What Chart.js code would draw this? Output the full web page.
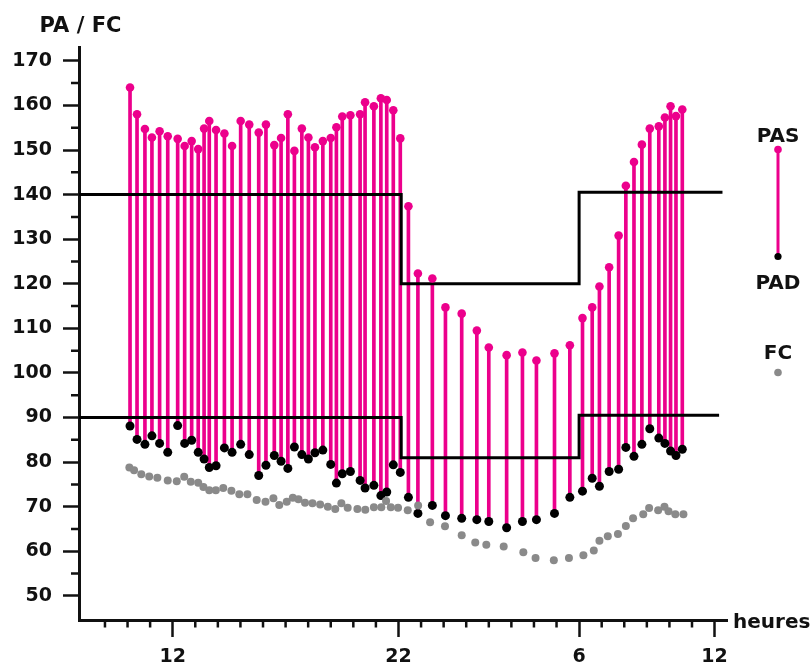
<!DOCTYPE html>
<html>
<head>
<meta charset="utf-8">
<title>PA / FC</title>
<script src="https://cdn.jsdelivr.net/npm/chart.js@4.4.1/dist/chart.umd.min.js"></script>
<style>
  html, body { margin: 0; padding: 0; background: #fff; }
  canvas { display: block; }
</style>
</head>
<body>
<canvas id="bp-chart" width="811" height="667"></canvas>
<script>
// measurement times in hours (24 = midnight, 30 = 6h next day)
const times = [10.11, 10.42, 10.77, 11.08, 11.42, 11.78, 12.22, 12.53, 12.84, 13.13,
    13.39, 13.62, 13.92, 14.29, 14.63, 15.01, 15.39, 15.81, 16.13, 16.50,
    16.80, 17.10, 17.39, 17.72, 18.01, 18.30, 18.65, 19.00, 19.25, 19.51,
    19.87, 20.30, 20.52, 20.91, 21.22, 21.48, 21.77, 22.08, 22.44, 22.86,
    23.50, 24.08, 24.80, 25.47, 26.00, 26.79, 27.49, 28.11, 28.91, 29.59,
    30.15, 30.58, 30.90, 31.33, 31.75, 32.07, 32.43, 32.78, 33.13, 33.53,
    33.80, 34.05, 34.29, 34.57];

// systolic (PAS) and diastolic (PAD)
const pas = [164.0, 158.0, 154.7, 152.8, 154.2, 153.1, 152.5, 150.9, 152.0, 150.2,
    154.8, 156.5, 154.5, 153.7, 150.9, 156.5, 155.7, 153.9, 155.7, 151.1,
    152.7, 158.0, 149.8, 154.8, 152.8, 150.6, 152.0, 152.7, 155.1, 157.5,
    157.8, 158.0, 160.7, 159.8, 161.6, 161.2, 158.9, 152.6, 137.4, 122.3,
    121.2, 114.7, 113.3, 109.5, 105.7, 104.0, 104.6, 102.8, 104.4, 106.2,
    112.3, 114.7, 119.4, 123.7, 130.8, 142.0, 147.3, 151.2, 154.8, 155.3,
    157.3, 159.8, 157.6, 159.1];

const pad = [88.1, 85.1, 84.0, 85.9, 84.2, 82.2, 88.2, 84.2, 84.9, 82.2,
    80.7, 78.8, 79.2, 83.2, 82.2, 84.0, 81.7, 77.0, 79.3, 81.5,
    80.2, 78.6, 83.4, 81.7, 80.7, 82.1, 82.7, 79.5, 75.3, 77.4,
    77.9, 75.9, 74.2, 74.8, 72.5, 73.3, 79.4, 77.7, 72.1, 68.5,
    70.3, 68.0, 67.4, 67.1, 66.7, 65.3, 66.7, 67.1, 68.5, 72.1,
    73.5, 76.4, 74.6, 77.9, 78.4, 83.3, 81.3, 84.0, 87.5, 85.4,
    84.2, 82.5, 81.5, 82.9];

// heart rate (FC)
const fcTimes = [10.08, 10.29, 10.61, 10.96, 11.32, 11.78, 12.18, 12.51, 12.80, 13.13,
    13.36, 13.62, 13.91, 14.24, 14.60, 14.95, 15.31, 15.72, 16.11, 16.46,
    16.72, 17.05, 17.32, 17.57, 17.86, 18.19, 18.53, 18.87, 19.20, 19.47,
    19.75, 20.18, 20.53, 20.91, 21.24, 21.45, 21.66, 21.98, 22.41, 22.87,
    23.40, 24.06, 24.80, 25.40, 25.89, 26.66, 27.53, 28.07, 28.88, 29.55,
    30.19, 30.65, 30.90, 31.27, 31.72, 32.07, 32.39, 32.84, 33.10, 33.50,
    33.78, 33.96, 34.26, 34.62];

const fc = [78.8, 78.2, 77.3, 76.8, 76.5, 75.9, 75.7, 76.7, 75.6, 75.4,
    74.4, 73.7, 73.7, 74.2, 73.6, 72.8, 72.8, 71.5, 71.1, 71.9,
    70.4, 71.1, 72.0, 71.7, 70.9, 70.8, 70.5, 70.0, 69.5, 70.8,
    69.8, 69.5, 69.3, 69.9, 69.9, 71.3, 69.9, 69.8, 69.2, 70.3,
    66.5, 65.6, 63.6, 62.0, 61.5, 61.1, 59.8, 58.5, 58.0, 58.5,
    59.1, 60.2, 62.4, 63.4, 63.9, 65.7, 67.4, 68.3, 69.7, 69.2,
    70.0, 69.0, 68.3, 68.3];

// day / night limits
const sysLimitTimes = [7.85, 22.12, 30.0, 36.35];
const sysLimits = [140, 120, 140.5];
const diaLimitTimes = [7.85, 22.12, 30.0, 36.2];
const diaLimits = [90, 81, 90.5];

// axis ticks
const hourTicks = [12, 22, 30, 36];
const yTicks = [50, 60, 70, 80, 90, 100, 110, 120, 130, 140, 150, 160, 170];

const pink = "#ec008c";
const grey = "#8a8a8a";
const ink = "#111111";
const fontFamily = "'DejaVu Sans', sans-serif";

function stepLine(ts, levels) {
    let pts = [];
    levels.forEach((v, i) => {
        pts.push({x: ts[i], y: v});
        pts.push({x: ts[i + 1], y: v});
    });
    return pts;
}

// minor ticks, titles and the legend on the right
const extras = {
    id: "extras",
    afterDraw(chart) {
        const ctx = chart.ctx;
        const xs = chart.scales.x;
        const ys = chart.scales.y;
        const area = chart.chartArea;
        ctx.save();
        ctx.strokeStyle = ink;
        ctx.lineWidth = 2.5;
        ctx.beginPath();
        for (let h = 9; h <= 36; h++) {
            if (hourTicks.includes(h)) continue;
            const px = xs.getPixelForValue(h);
            ctx.moveTo(px, area.bottom);
            ctx.lineTo(px, area.bottom + 7.5);
        }
        for (let v = 55; v <= 165; v += 10) {
            const py = ys.getPixelForValue(v);
            ctx.moveTo(area.left - 8, py);
            ctx.lineTo(area.left, py);
        }
        ctx.stroke();

        ctx.fillStyle = ink;
        ctx.textBaseline = "alphabetic";
        ctx.font = "bold 21px " + fontFamily;
        ctx.textAlign = "center";
        ctx.fillText("PA / FC", 80.5, 31.5);
        ctx.font = "bold 20px " + fontFamily;
        ctx.textAlign = "left";
        ctx.fillText("heures", 733, 628);

        // legend
        const lx = 778;
        ctx.textAlign = "center";
        ctx.fillText("PAS", lx, 141.5);
        ctx.fillText("PAD", lx, 289);
        ctx.fillText("FC", lx, 359);
        ctx.strokeStyle = pink;
        ctx.lineWidth = 3;
        ctx.beginPath();
        ctx.moveTo(lx, 149.5);
        ctx.lineTo(lx, 256.5);
        ctx.stroke();
        const dot = (y, r, c) => {
            ctx.fillStyle = c;
            ctx.beginPath();
            ctx.arc(lx, y, r, 0, Math.PI * 2);
            ctx.fill();
        };
        dot(149.5, 3.8, pink);
        dot(256.5, 3.6, "#000");
        dot(372.5, 3.8, grey);
        ctx.restore();
    }
};

const stems = times.map((t, i) => ({x: t, y: [pad[i], pas[i]]}));

const chart = new Chart(document.getElementById("bp-chart"), {
    type: "scatter",
    data: {
        datasets: [
            {
                type: "bar",
                label: "PAS-PAD",
                data: stems,
                backgroundColor: pink,
                barThickness: 3,
                borderWidth: 0,
                grouped: false,
                order: 3
            },
            {
                type: "line",
                label: "limites PAS",
                data: stepLine(sysLimitTimes, sysLimits),
                borderColor: "#000",
                borderWidth: 3,
                pointRadius: 0,
                fill: false,
                tension: 0,
                order: 2
            },
            {
                type: "line",
                label: "limites PAD",
                data: stepLine(diaLimitTimes, diaLimits),
                borderColor: "#000",
                borderWidth: 3,
                pointRadius: 0,
                fill: false,
                tension: 0,
                order: 2
            },
            {
                label: "FC",
                data: fcTimes.map((t, i) => ({x: t, y: fc[i]})),
                pointRadius: 4,
                pointBackgroundColor: grey,
                pointBorderWidth: 0,
                order: 1
            },
            {
                label: "PAD",
                data: times.map((t, i) => ({x: t, y: pad[i]})),
                pointRadius: 4.5,
                pointBackgroundColor: "#000",
                pointBorderWidth: 0,
                order: 1
            },
            {
                label: "PAS",
                data: times.map((t, i) => ({x: t, y: pas[i]})),
                pointRadius: 4.3,
                pointBackgroundColor: pink,
                pointBorderWidth: 0,
                order: 1
            }
        ]
    },
    options: {
        responsive: false,
        animation: false,
        layout: {
            padding: {left: 0, top: 47, right: 84, bottom: 0}
        },
        plugins: {
            legend: {display: false},
            tooltip: {enabled: false}
        },
        scales: {
            x: {
                type: "linear",
                min: 7.85,
                max: 36.55,
                offset: false,
                afterBuildTicks: s => { s.ticks = hourTicks.map(v => ({value: v})); },
                afterFit: s => { s.height = 47; },
                grid: {
                    drawOnChartArea: false,
                    offset: false,
                    tickLength: 17,
                    tickWidth: 2.5,
                    tickColor: ink
                },
                border: {display: true, width: 3, color: ink},
                ticks: {
                    autoSkip: false,
                    maxRotation: 0,
                    padding: 9,
                    color: ink,
                    font: {family: fontFamily, size: 19, weight: "bold"},
                    callback: v => String(v % 24)
                }
            },
            y: {
                type: "linear",
                min: 44.6,
                max: 173.1,
                afterBuildTicks: s => { s.ticks = yTicks.map(v => ({value: v})); },
                afterFit: s => { s.width = 79; },
                grid: {
                    drawOnChartArea: false,
                    tickLength: 16,
                    tickWidth: 2.5,
                    tickColor: ink
                },
                border: {display: true, width: 3, color: ink},
                ticks: {
                    padding: 11,
                    color: ink,
                    font: {family: fontFamily, size: 19, weight: "bold"}
                }
            }
        }
    },
    plugins: [extras]
});
</script>
</body>
</html>
